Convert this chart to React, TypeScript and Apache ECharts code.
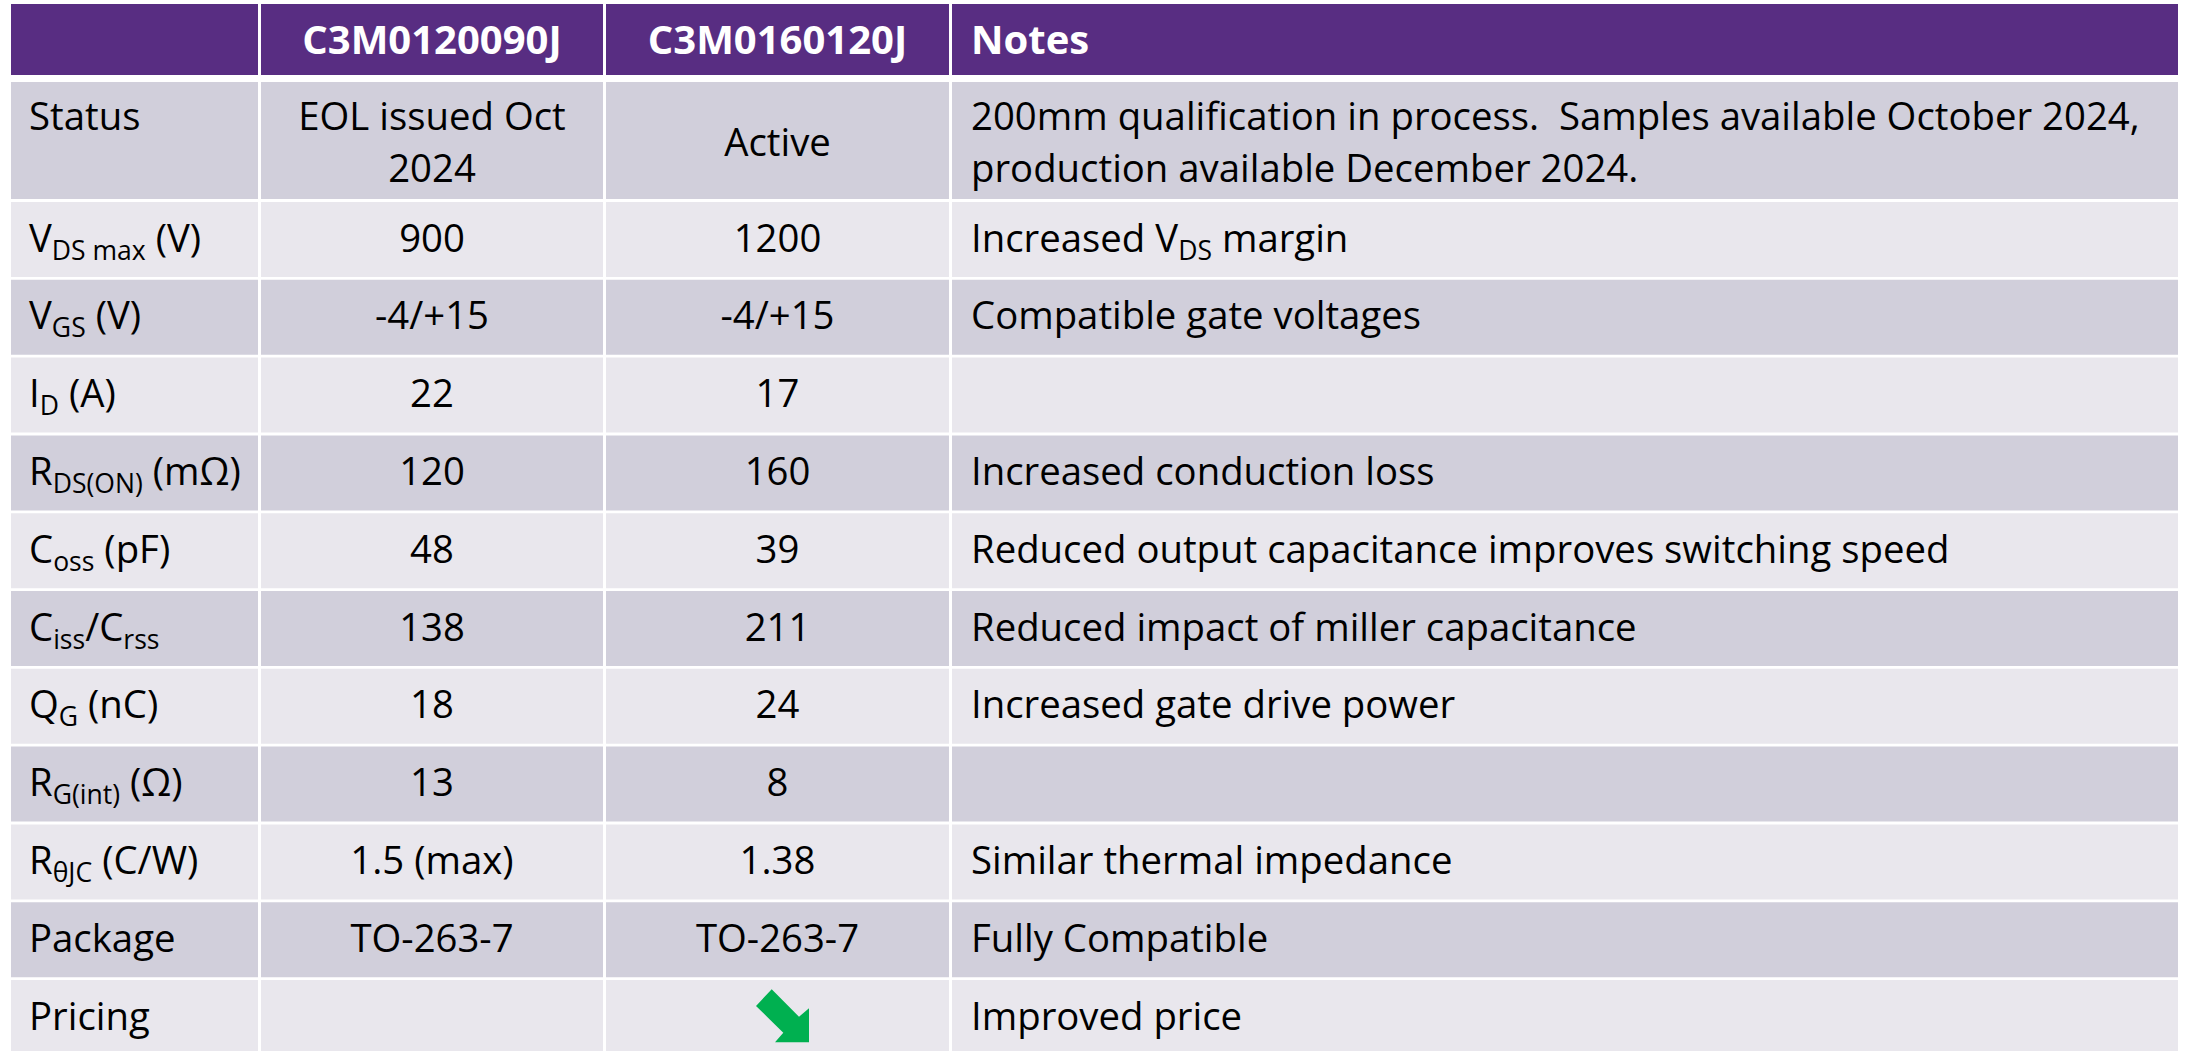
import React, { useEffect, useRef } from "react";
import * as echarts from "echarts";

// ---------- data ----------
const headers = ["", "C3M0120090J", "C3M0160120J", "Notes"];
const parameters = [
  "Status",
  "V{s|DS max} (V)",
  "V{s|GS} (V)",
  "I{s|D} (A)",
  "R{s|DS(ON)} (mΩ)",
  "C{s|oss} (pF)",
  "C{s|iss}/C{s|rss}",
  "Q{s|G} (nC)",
  "R{s|G(int)} (Ω)",
  "R{s|θJC} (C/W)",
  "Package",
  "Pricing",
];
const c3m0120090j = [
  "EOL issued Oct\n2024",
  "900",
  "-4/+15",
  "22",
  "120",
  "48",
  "138",
  "18",
  "13",
  "1.5 (max)",
  "TO-263-7",
  "",
];
const c3m0160120j = [
  "Active",
  "1200",
  "-4/+15",
  "17",
  "160",
  "39",
  "211",
  "24",
  "8",
  "1.38",
  "TO-263-7",
  "",
];
// trend icon per row for the C3M0160120J column ("down" = price decrease arrow)
const c3m0160120jTrend = ["", "", "", "", "", "", "", "", "", "", "", "down"];
const notes = [
  "200mm qualification in process.  Samples available October 2024,\nproduction available December 2024.",
  "Increased V{s|DS} margin",
  "Compatible gate voltages",
  "",
  "Increased conduction loss",
  "Reduced output capacitance improves switching speed",
  "Reduced impact of miller capacitance",
  "Increased gate drive power",
  "",
  "Similar thermal impedance",
  "Fully Compatible",
  "Improved price",
];

// ---------- layout / style ----------
const FONT = "'Open Sans', 'Noto Sans', sans-serif";
const FS = 39;
const HEAD_FS = 40;
const SUB_FS = 27;
const LINE_H = 52;
const SX = 0.983;
const HEAD_SX = 1.0;
const PURPLE = "#582d82";
const DARK = "#d1cfdb";
const LIGHT = "#e9e7ed";
const GREEN = "#00b050";

const COLS = [
  { x0: 11, x1: 258, align: "left", pad: 18 },
  { x0: 261, x1: 603, align: "center", pad: 0 },
  { x0: 606, x1: 949, align: "center", pad: 0 },
  { x0: 952, x1: 2178, align: "left", pad: 19 },
];
const HEADER_BAND = { y0: 4, y1: 75 };
const FIRST_BAND = { y0: 82, y1: 199 };
const ROW_TOP = 202;
const ROW_PITCH = 77.8;
const ROW_H = 75;
const TEXT_DY = -3;

const ARROW_OFFSETS = [
  [-21.5, -11.5],
  [-5.8, -28.2],
  [21.5, -0.8],
  [31.5, -9.2],
  [31.5, 24.8],
  [-2.5, 24.8],
  [5.8, 15.2],
];

function rowBand(i: number) {
  if (i === 0) return FIRST_BAND;
  const y0 = ROW_TOP + (i - 1) * ROW_PITCH;
  return { y0, y1: y0 + ROW_H };
}

function textEl(
  text: string,
  col: (typeof COLS)[number],
  cy: number,
  color: string,
  bold: boolean
) {
  const x = col.align === "center" ? (col.x0 + col.x1) / 2 : col.x0 + col.pad;
  const fs = bold ? HEAD_FS : FS;
  return {
    type: "text",
    x,
    y: cy,
    scaleX: bold ? HEAD_SX : SX,
    silent: true,
    style: {
      text,
      fill: color,
      fontFamily: FONT,
      fontSize: fs,
      fontWeight: bold ? "bold" : "normal",
      align: col.align,
      textAlign: col.align,
      verticalAlign: "middle",
      textVerticalAlign: "middle",
      lineHeight: LINE_H,
      rich: {
        s: {
          fill: color,
          fontFamily: FONT,
          fontSize: SUB_FS,
          lineHeight: 30,
          verticalAlign: "bottom",
        },
      },
    },
  };
}

export default function App() {
  const ref = useRef<HTMLDivElement>(null);
  useEffect(() => {
    document.body.style.margin = "0";
    const chart = echarts.init(ref.current!, null, { renderer: "svg" });
    const elements: any[] = [];

    // header
    COLS.forEach((c, ci) => {
      elements.push({
        type: "rect",
        silent: true,
        shape: { x: c.x0, y: HEADER_BAND.y0, width: c.x1 - c.x0, height: HEADER_BAND.y1 - HEADER_BAND.y0 },
        style: { fill: PURPLE },
      });
      if (headers[ci]) {
        elements.push(textEl(headers[ci], c, (HEADER_BAND.y0 + HEADER_BAND.y1) / 2 - 1, "#ffffff", true));
      }
    });

    const columnsData = [parameters, c3m0120090j, c3m0160120j, notes];
    parameters.forEach((_, ri) => {
      const band = rowBand(ri);
      const fill = ri % 2 === 0 ? DARK : LIGHT;
      const mid = (band.y0 + band.y1) / 2;
      COLS.forEach((c, ci) => {
        elements.push({
          type: "rect",
          silent: true,
          shape: { x: c.x0, y: band.y0, width: c.x1 - c.x0, height: band.y1 - band.y0 },
          style: { fill },
        });
        const t = columnsData[ci][ri];
        if (!t) return;
        let cy = mid + (ri === 0 ? 0 : TEXT_DY);
        // the first-column label of the tall first row sits on the first text line
        if (ri === 0 && ci === 0) cy = mid - LINE_H / 2;
        elements.push(textEl(t, c, cy, "#000000", false));
      });
      if (c3m0160120jTrend[ri] === "down") {
        const c = COLS[2];
        const cx = (c.x0 + c.x1) / 2;
        elements.push({
          type: "polygon",
          silent: true,
          shape: { points: ARROW_OFFSETS.map(([dx, dy]) => [cx + dx, mid + dy]) },
          style: { fill: GREEN },
        });
      }
    });

    chart.setOption({
      animation: false,
      backgroundColor: "#ffffff",
      graphic: { elements },
    });
    return () => chart.dispose();
  }, []);
  return <div ref={ref} style={{ width: 2185, height: 1051 }} />;
}
